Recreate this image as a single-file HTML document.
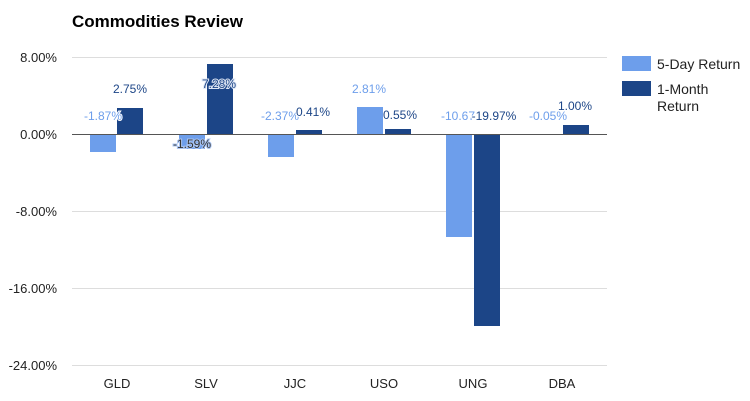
<!DOCTYPE html>
<html><head><style>body{margin:0;background:#fff}svg{display:block}</style></head><body>
<svg width="750" height="401" xmlns="http://www.w3.org/2000/svg" font-family="Liberation Sans, Arial, sans-serif">
<text x="72" y="27" font-size="17" font-weight="bold" fill="#000">Commodities Review</text>
<g stroke="#ddd" stroke-width="1">
<line x1="72" y1="57.5" x2="607" y2="57.5"/>
<line x1="72" y1="211.5" x2="607" y2="211.5"/>
<line x1="72" y1="288.5" x2="607" y2="288.5"/>
<line x1="72" y1="365.5" x2="607" y2="365.5"/>
</g>
<g font-size="13" fill="#222" text-anchor="end">
<text x="57" y="62">8.00%</text>
<text x="57" y="139">0.00%</text>
<text x="57" y="216">-8.00%</text>
<text x="57" y="293">-16.00%</text>
<text x="57" y="370">-24.00%</text>
</g>
<g fill="#6d9eeb">
<rect x="90" y="134" width="26" height="18"/>
<rect x="179" y="134" width="26" height="15"/>
<rect x="268" y="134" width="26" height="23"/>
<rect x="357" y="107" width="26" height="27"/>
<rect x="446" y="134" width="26" height="103"/>
</g>
<g fill="#1c4587">
<rect x="117" y="108" width="26" height="26"/>
<rect x="207" y="64" width="26" height="70"/>
<rect x="296" y="130" width="26" height="4"/>
<rect x="385" y="129" width="26" height="5"/>
<rect x="474" y="134" width="26" height="192"/>
<rect x="563" y="125" width="26" height="9"/>
</g>
<line x1="72" y1="134.5" x2="607" y2="134.5" stroke="#555" stroke-width="1"/>
<g font-size="12" text-anchor="middle">
<text x="103" y="120" fill="#6d9eeb" stroke="#fff" stroke-width="2" paint-order="stroke">-1.87%</text>
<text x="130" y="93" fill="#1c4587">2.75%</text>
<text x="192" y="148" fill="#333" stroke="#a9c4f2" stroke-width="2" paint-order="stroke">-1.59%</text>
<text x="219" y="88" fill="#1c4587" stroke="#dfe7f5" stroke-width="2" paint-order="stroke">7.28%</text>
<text x="280" y="120" fill="#6d9eeb">-2.37%</text>
<text x="313" y="116" fill="#1c4587" stroke="#fff" stroke-width="2" paint-order="stroke">0.41%</text>
<text x="369" y="93" fill="#6d9eeb">2.81%</text>
<text x="400" y="119" fill="#1c4587">0.55%</text>
<text x="458" y="120" fill="#6d9eeb">-10.67</text>
<text x="494" y="120" fill="#1c4587" stroke="#fff" stroke-width="2" paint-order="stroke">-19.97%</text>
<text x="548" y="120" fill="#6d9eeb">-0.05%</text>
<text x="575" y="110" fill="#1c4587" stroke="#fff" stroke-width="2" paint-order="stroke">1.00%</text>
</g>
<g font-size="13" fill="#222" text-anchor="middle">
<text x="117" y="388">GLD</text>
<text x="206" y="388">SLV</text>
<text x="295" y="388">JJC</text>
<text x="384" y="388">USO</text>
<text x="473" y="388">UNG</text>
<text x="562" y="388">DBA</text>
</g>
<rect x="622" y="56" width="29" height="15" fill="#6d9eeb"/>
<rect x="622" y="81" width="29" height="15" fill="#1c4587"/>
<g font-size="14" fill="#222">
<text x="657" y="69">5-Day Return</text>
<text x="657" y="94">1-Month</text>
<text x="657" y="111">Return</text>
</g>
</svg>
</body></html>
